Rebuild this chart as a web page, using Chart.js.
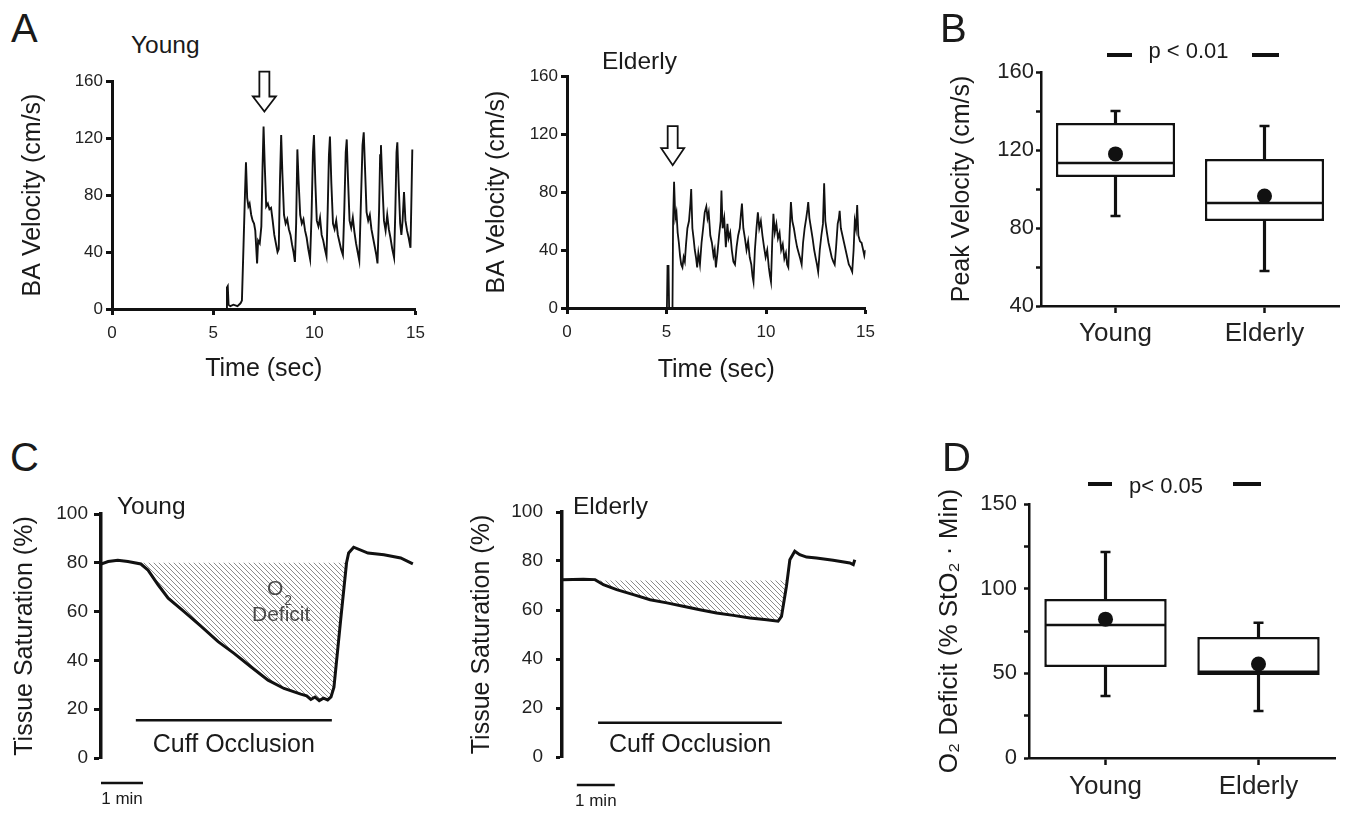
<!DOCTYPE html>
<html>
<head>
<meta charset="utf-8">
<script src="https://cdn.jsdelivr.net/npm/chart.js@4.4.1/dist/chart.umd.min.js"></script>
<style>
  body { margin: 0; background: #fff; }
  #fig { position: relative; width: 1345px; height: 813px; overflow: hidden;
         font-family: "Liberation Sans", Arial, Helvetica, sans-serif; color: #1a1a1a; }
  #fig canvas { position: absolute; }
  .lbl { position: absolute; white-space: nowrap; }
  .panel { font-size: 40px; line-height: 40px; }
  .grp { font-size: 24.5px; line-height: 24px; }
</style>
</head>
<body>
<div id="fig">
  <canvas id="aYoung"></canvas>
  <canvas id="aElderly"></canvas>
  <canvas id="bBox"></canvas>
  <canvas id="cYoung"></canvas>
  <canvas id="cElderly"></canvas>
  <canvas id="dBox"></canvas>

  <div class="lbl panel" style="left:11px;top:8px">A</div>
  <div class="lbl panel" style="left:940px;top:8px">B</div>
  <div class="lbl panel" style="left:10px;top:437px">C</div>
  <div class="lbl panel" style="left:942px;top:437px">D</div>
  <div class="lbl grp" style="left:131px;top:33px">Young</div>
  <div class="lbl grp" style="left:602px;top:49px">Elderly</div>
  <div class="lbl grp" style="left:117px;top:494px">Young</div>
  <div class="lbl grp" style="left:573px;top:494px">Elderly</div>
</div>
<script>
// ---- Panel A: brachial artery velocity traces (time s / velocity cm/s) ----
var baYoungTime = [0, 5.65, 5.68, 5.72, 5.76, 5.85, 6.0, 6.2, 6.35, 6.42, 6.5, 6.57, 6.62, 6.68, 6.74, 6.8, 6.88, 6.95,
  7.02, 7.08, 7.12, 7.17, 7.22, 7.3, 7.38, 7.44, 7.49, 7.55, 7.62, 7.7, 7.78, 7.86, 7.94, 8.02, 8.1, 8.18, 8.24, 8.3,
  8.36, 8.42, 8.5, 8.58, 8.66, 8.74, 8.82, 8.9, 8.97, 9.04, 9.1, 9.16, 9.22, 9.3, 9.38, 9.46, 9.54, 9.62, 9.7, 9.79,
  9.86, 9.93, 9.98, 10.05, 10.12, 10.2, 10.28, 10.36, 10.44, 10.52, 10.6, 10.66, 10.72, 10.77, 10.84, 10.92, 11.0,
  11.08, 11.16, 11.24, 11.32, 11.41, 11.48, 11.55, 11.6, 11.66, 11.74, 11.82, 11.9, 11.98, 12.06, 12.14, 12.22, 12.3,
  12.38, 12.44, 12.5, 12.58, 12.66, 12.74, 12.82, 12.9, 12.98, 13.06, 13.12, 13.2, 13.25, 13.29, 13.36, 13.44, 13.52,
  13.6, 13.68, 13.76, 13.85, 13.94, 14.0, 14.06, 14.1, 14.17, 14.24, 14.3, 14.36, 14.43, 14.5, 14.58, 14.66, 14.75,
  14.8, 14.84];
var baYoungVel = [0, 0, 15, 16, 3, 2, 3, 2, 4, 6, 45, 80, 103, 78, 72, 74, 66, 62,
  60, 55, 45, 32, 48, 46, 58, 100, 128, 100, 72, 74, 70, 71, 62, 52, 46, 40, 42, 90,
  122, 95, 66, 60, 63, 56, 52, 45, 40, 33, 60, 112, 90, 66, 60, 63, 55, 50, 42, 35,
  65, 110, 122, 88, 62, 58, 64, 52, 48, 42, 37, 70, 108, 121, 88, 60, 56,
  62, 52, 47, 42, 38, 70, 110, 119, 92, 62, 57, 64, 54, 46, 40, 34, 75,
  115, 124, 100, 68, 62, 66, 56, 50, 44, 38, 32, 70, 108, 115, 88, 62, 55,
  66, 56, 50, 42, 36, 68, 110, 117, 86, 60, 52, 62, 82, 62, 55, 50, 43,
  80, 112];

var baElderlyTime = [0, 5.02, 5.05, 5.1, 5.13, 5.3, 5.33, 5.38, 5.44, 5.5, 5.56, 5.62, 5.68, 5.74, 5.8, 5.86, 5.92,
  5.98, 6.05, 6.13, 6.2, 6.24, 6.3, 6.36, 6.42, 6.48, 6.54, 6.6, 6.68, 6.76, 6.84, 6.92, 7.0, 7.06, 7.12, 7.2, 7.28,
  7.36, 7.42, 7.48, 7.56, 7.64, 7.72, 7.76, 7.82, 7.9, 7.98, 8.06, 8.12, 8.2, 8.28, 8.36, 8.44, 8.52, 8.6, 8.68, 8.74,
  8.79, 8.86, 8.94, 9.02, 9.1, 9.18, 9.26, 9.32, 9.37, 9.44, 9.52, 9.59, 9.66, 9.74, 9.82, 9.9, 9.98, 10.06, 10.14,
  10.2, 10.25, 10.31, 10.37, 10.44, 10.52, 10.6, 10.68, 10.76, 10.84, 10.92, 11.0, 11.06, 11.12, 11.18, 11.25, 11.32,
  11.4, 11.48, 11.56, 11.64, 11.72, 11.79, 11.86, 11.94, 12.02, 12.08, 12.12, 12.18, 12.26, 12.34, 12.42, 12.5, 12.56,
  12.62, 12.7, 12.78, 12.86, 12.92, 12.98, 13.06, 13.14, 13.22, 13.3, 13.38, 13.45, 13.52, 13.6, 13.66, 13.7, 13.76,
  13.84, 13.92, 14.0, 14.08, 14.16, 14.24, 14.33, 14.4, 14.46, 14.52, 14.58, 14.64, 14.72, 14.8, 14.88, 14.94, 15.0];
var baElderlyVel = [0, 0, 29, 29, 0, 0, 60, 87, 62, 66, 52, 45, 36, 30, 28, 35, 32,
  44, 55, 60, 72, 82, 55, 48, 40, 35, 28, 38, 30, 45, 55, 66, 70, 62, 66, 50, 45,
  36, 40, 28, 38, 50, 60, 81, 55, 62, 42, 58, 48, 52, 40, 32, 30, 42, 50, 55, 65,
  72, 55, 48, 40, 46, 35, 30, 22, 18, 40, 55, 66, 55, 60, 50, 42, 35, 40, 28,
  22, 18, 45, 65, 52, 58, 48, 52, 40, 44, 34, 38, 30, 28, 50, 73, 60,
  55, 48, 42, 38, 34, 30, 45, 55, 62, 68, 73, 62, 55, 48, 40, 34, 30,
  25, 40, 50, 58, 86, 60, 52, 45, 40, 35, 32, 30, 42, 58, 62, 67, 55,
  50, 45, 40, 35, 30, 28, 25, 40, 60, 55, 71, 50, 46, 45, 40, 36, 40];

// hollow arrows: [time, top value, tip value]
var arrowYoung = [7.53, 166.6, 138.6];
var arrowElderly = [5.31, 125.5, 98.5];

// ---- Panel B: peak velocity box plots ----
var groups = ['Young', 'Elderly'];
var peakMin = [86.2, 58.0];
var peakQ1 = [106.2, 83.6];
var peakMedian = [113.3, 92.8];
var peakQ3 = [133.8, 115.4];
var peakMax = [140.0, 132.3];
var peakMean = [118.0, 96.4];

// ---- Panel C: tissue saturation (time min / StO2 %) ----
var stoYoungTime = [0, 0.17, 0.4, 0.64, 0.95, 1.12, 1.36, 1.6, 1.98, 2.38, 2.79, 3.17, 3.57, 3.98, 4.36, 4.76, 4.9,
  5.0, 5.1, 5.2, 5.3, 5.4, 5.48, 5.55, 5.71, 5.85, 5.9, 6.02, 6.36, 6.74, 7.14, 7.43];
var stoYoungSat = [79.5, 80.5, 81, 80.5, 79.5, 77, 71, 65.5, 60, 54, 47.7, 42.9, 37.4, 31.9, 28.5, 26.2, 25.5,
  24, 25, 23.5, 24.5, 23.8, 25, 29, 56.6, 80, 84, 86.4, 84, 83.3, 82, 79.6];
var stoElderlyTime = [0, 0.56, 0.87, 1.09, 1.44, 1.88, 2.32, 2.76, 3.19, 3.63, 4.07, 4.51, 4.95, 5.39, 5.69, 5.78,
  5.91, 5.93, 6.0, 6.13, 6.26, 6.44, 6.7, 7.14, 7.58, 7.67, 7.71];
var stoElderlySat = [72.3, 72.6, 72.4, 70.3, 68.3, 66.3, 64.2, 62.9, 61.5, 60.1, 58.8, 57.8, 56.7, 56, 55.4, 57.4,
  69.7, 72, 80.5, 84, 82.6, 81.6, 81.2, 80.3, 79.2, 78.5, 80.5];

var deficitYoung = [0.95, 5.85];    // time window of the hatched area
var deficitElderly = [0.87, 5.93];
var baselineYoung = 80;
var baselineElderly = 72;
var cuffYoung = [0.83, 5.5];
var cuffElderly = [0.95, 5.79];
var cuffLevelYoung = 15.5;
var cuffLevelElderly = 14;
var minuteBarYoung = [0, 1];
var minuteBarElderly = [0.39, 1.39];

// ---- Panel D: O2 deficit box plots ----
var defMin = [36.6, 27.7];
var defQ1 = [53.7, 49.0];
var defMedian = [78.5, 51.0];
var defQ3 = [93.9, 71.5];
var defMax = [121.6, 79.8];
var defMean = [82.0, 55.5];

var FONT = '"Liberation Sans", Arial, Helvetica, sans-serif';
var INK = '#111';
var TITLE = 25;
Chart.defaults.font.family = FONT;
Chart.defaults.color = '#1a1a1a';
Chart.defaults.animation = false;
Chart.defaults.events = [];
Chart.defaults.plugins.legend.display = false;
Chart.defaults.plugins.tooltip.enabled = false;

// size and place a canvas so that its chart area lands on box
function place(id, box, pad) {
  var cv = document.getElementById(id);
  cv.width = box.r - box.l + pad.l + pad.r;
  cv.height = box.b - box.t + pad.t + pad.b;
  cv.style.left = (box.l - pad.l) + 'px';
  cv.style.top = (box.t - pad.t) + 'px';
  return cv;
}

function pairs(xs, ys) {
  return xs.map(function (x, i) { return {x: x, y: ys[i]}; });
}

function axis(o) {
  return {
    border: {display: true, color: INK, width: o.bw},
    grid: {display: true, drawOnChartArea: false, drawTicks: true, offset: false,
      tickLength: o.tl, tickWidth: o.tw || o.bw, tickColor: INK},
    ticks: {font: {size: o.fs}, color: '#222', padding: o.tp, maxRotation: 0, autoSkip: false}
  };
}

function hatch(cv) {
  var p = document.createElement('canvas');
  p.width = 5; p.height = 5;
  var g = p.getContext('2d');
  g.strokeStyle = '#8c8c8c';
  g.lineWidth = 1;
  g.beginPath();
  g.moveTo(-1, -1); g.lineTo(6, 6);
  g.moveTo(-1, 4); g.lineTo(1, 6);
  g.moveTo(4, -1); g.lineTo(6, 1);
  g.stroke();
  return cv.getContext('2d').createPattern(p, 'repeat');
}

// hollow down arrow over the trace
function arrowPlugin(a, head) {
  return {
    id: 'arrow',
    afterDatasetsDraw: function (chart) {
      var ctx = chart.ctx, xs = chart.scales.x, ys = chart.scales.y;
      var x = xs.getPixelForValue(a[0]), yTop = ys.getPixelForValue(a[1]), yTip = ys.getPixelForValue(a[2]);
      var yHead = yTip - head;
      ctx.save();
      ctx.beginPath();
      ctx.moveTo(x - 5, yTop); ctx.lineTo(x + 5, yTop); ctx.lineTo(x + 5, yHead);
      ctx.lineTo(x + 11.5, yHead); ctx.lineTo(x, yTip); ctx.lineTo(x - 11.5, yHead);
      ctx.lineTo(x - 5, yHead); ctx.closePath();
      ctx.fillStyle = '#fff'; ctx.fill();
      ctx.strokeStyle = INK; ctx.lineWidth = 1.8; ctx.stroke();
      ctx.restore();
    }
  };
}

// cuff occlusion bar, its label, the 1 min scale bar and optional O2 deficit label
function cuffPlugin(o) {
  return {
    id: 'cuff',
    afterDatasetsDraw: function (chart) {
      var ctx = chart.ctx, xs = chart.scales.x, ys = chart.scales.y;
      var x0 = xs.getPixelForValue(o.cuff[0]), x1 = xs.getPixelForValue(o.cuff[1]);
      var y = ys.getPixelForValue(o.level);
      ctx.save();
      ctx.strokeStyle = INK; ctx.lineWidth = 2.5;
      ctx.beginPath(); ctx.moveTo(x0, y); ctx.lineTo(x1, y); ctx.stroke();
      ctx.fillStyle = '#1a1a1a'; ctx.textAlign = 'center'; ctx.textBaseline = 'middle';
      ctx.font = '25px ' + FONT;
      ctx.fillText('Cuff Occlusion', (x0 + x1) / 2, y + o.textDy);
      var yb = ys.getPixelForValue(0) + o.barDy;
      var b0 = xs.getPixelForValue(o.bar[0]), b1 = xs.getPixelForValue(o.bar[1]);
      ctx.beginPath(); ctx.moveTo(b0, yb); ctx.lineTo(b1, yb); ctx.stroke();
      ctx.font = '17px ' + FONT;
      ctx.fillText('1 min', (b0 + b1) / 2, yb + 16);
      if (o.o2) {
        var lx = xs.getPixelForValue(o.o2[0]), ly = ys.getPixelForValue(o.o2[1]);
        ctx.fillStyle = '#4a4a4a';
        ctx.font = '21px ' + FONT;
        ctx.fillText('O', lx, ly);
        ctx.fillText('Deficit', lx + 6, ly + 26);
        ctx.font = '14px ' + FONT;
        ctx.fillText('2', lx + 13, ly + 12);
      }
      ctx.restore();
    }
  };
}

// significance label with the two short dashes
function pPlugin(o) {
  return {
    id: 'pval',
    afterDraw: function (chart) {
      var ctx = chart.ctx, xs = chart.scales.x, ys = chart.scales.y;
      var c0 = xs.getPixelForValue(0), c1 = xs.getPixelForValue(1);
      var y = ys.getPixelForValue(o.level);
      ctx.save();
      ctx.strokeStyle = INK; ctx.lineWidth = 4;
      ctx.beginPath();
      ctx.moveTo(c0 + o.dash[0][0], y); ctx.lineTo(c0 + o.dash[0][1], y);
      ctx.moveTo(c1 + o.dash[1][0], y); ctx.lineTo(c1 + o.dash[1][1], y);
      ctx.stroke();
      ctx.font = '22px ' + FONT; ctx.fillStyle = '#1a1a1a';
      ctx.textAlign = 'center'; ctx.textBaseline = 'middle';
      ctx.fillText(o.text, (c0 + c1) / 2 + o.textDx, ys.getPixelForValue(o.textLevel));
      ctx.restore();
    }
  };
}

function traceChart(id, box, pad, o) {
  var cv = place(id, box, pad);
  var ds = [{data: pairs(o.t, o.v), borderColor: INK, borderWidth: o.lw, pointRadius: 0,
    tension: 0, fill: false, order: 0}];
  if (o.window) {
    ds.push({
      data: pairs(o.t, o.v).filter(function (p) { return p.x >= o.window[0] && p.x <= o.window[1]; }),
      borderWidth: 0, borderColor: 'rgba(0,0,0,0)', pointRadius: 0, tension: 0,
      backgroundColor: hatch(cv), fill: {value: o.base}, order: 1
    });
  }
  var x = axis(o.xAxis || {bw: 3, tl: 6, fs: 17, tp: 8});
  x.type = 'linear'; x.min = o.xMin; x.max = o.xMax;
  x.ticks.stepSize = o.xStep;
  if (o.xTitle) {
    x.title = {display: true, text: o.xTitle, font: {size: TITLE}, color: '#1a1a1a', padding: 0};
    x.afterFit = function (s) { s.height = pad.b; };
  } else {
    x.display = false;
  }
  var y = axis(o.yAxis);
  y.min = o.yMin; y.max = o.yMax; y.ticks.stepSize = o.yStep;
  y.title = {display: true, text: o.yTitle, font: {size: TITLE}, color: '#1a1a1a', padding: 0};
  y.afterFit = function (s) { s.width = pad.l; };
  return new Chart(cv, {
    type: 'line',
    data: {datasets: ds},
    options: {
      responsive: false,
      layout: {autoPadding: false, padding: {left: 0, top: pad.t, right: pad.r, bottom: o.xTitle ? 0 : pad.b}},
      scales: {x: x, y: y}
    },
    plugins: o.plugins
  });
}

function boxChart(id, box, pad, o) {
  var cv = place(id, box, pad);
  var ds = [
    {type: 'line', data: o.mean, showLine: false, pointRadius: 7.5, pointBackgroundColor: INK,
      pointBorderWidth: 0, order: 0},
    {type: 'line', data: o.med, showLine: false, pointStyle: 'line', pointRadius: o.half,
      pointBorderColor: INK, pointBorderWidth: 2.5, order: 1},
    {type: 'line', data: o.max, showLine: false, pointStyle: 'line', pointRadius: 5,
      pointBorderColor: INK, pointBorderWidth: 2.5, order: 2},
    {type: 'line', data: o.min, showLine: false, pointStyle: 'line', pointRadius: 5,
      pointBorderColor: INK, pointBorderWidth: 2.5, order: 2},
    {type: 'bar', data: o.q3.map(function (v, i) { return [v, o.max[i]]; }), backgroundColor: INK,
      barThickness: 2.5, grouped: false, order: 3},
    {type: 'bar', data: o.min.map(function (v, i) { return [v, o.q1[i]]; }), backgroundColor: INK,
      barThickness: 2.5, grouped: false, order: 3},
    {type: 'bar', data: o.q1.map(function (v, i) { return [v, o.q3[i]]; }), backgroundColor: '#fff',
      borderColor: INK, borderWidth: 2.5, borderSkipped: false, categoryPercentage: 0.8,
      barPercentage: 1, grouped: false, order: 4}
  ];
  var x = axis({bw: 2.5, tl: 7, fs: 26, tp: o.xPad});
  x.offset = true;
  x.afterFit = function (s) { s.height = pad.b; };
  var y = axis({bw: 2.5, tl: 5, fs: 22, tp: o.yPad});
  y.min = o.yMin; y.max = o.yMax; y.ticks.stepSize = o.yStep;
  y.ticks.callback = function (v) { return v % o.yLabelEvery === 0 ? v : ''; };
  y.title = {display: true, text: o.yTitle, font: {size: o.titleSize || TITLE}, color: '#1a1a1a', padding: 0};
  y.afterFit = function (s) { s.width = pad.l; };
  return new Chart(cv, {
    type: 'bar',
    data: {labels: groups, datasets: ds},
    options: {
      responsive: false,
      layout: {autoPadding: false, padding: {left: 0, top: pad.t, right: pad.r, bottom: 0}},
      scales: {x: x, y: y}
    },
    plugins: [pPlugin(o.p)]
  });
}

// A
traceChart('aYoung', {l: 112, t: 81, r: 418, b: 309}, {l: 94, t: 20, r: 15, b: 75}, {
  t: baYoungTime, v: baYoungVel, lw: 1.9,
  xMin: 0, xMax: 15, xStep: 5, xTitle: 'Time (sec)',
  yMin: 0, yMax: 160, yStep: 40, yTitle: 'BA Velocity (cm/s)',
  yAxis: {bw: 3, tl: 6, fs: 17, tp: 3},
  plugins: [arrowPlugin(arrowYoung, 15)]
});
traceChart('aElderly', {l: 567, t: 76, r: 868, b: 308}, {l: 85, t: 20, r: 15, b: 77}, {
  t: baElderlyTime, v: baElderlyVel, lw: 1.8,
  xMin: 0, xMax: 15, xStep: 5, xTitle: 'Time (sec)',
  yMin: 0, yMax: 160, yStep: 40, yTitle: 'BA Velocity (cm/s)',
  yAxis: {bw: 3, tl: 6, fs: 17, tp: 3},
  plugins: [arrowPlugin(arrowElderly, 17)]
});

// B
boxChart('bBox', {l: 1041, t: 72, r: 1339, b: 306}, {l: 94, t: 45, r: 5, b: 45}, {
  min: peakMin, q1: peakQ1, med: peakMedian, q3: peakQ3, max: peakMax, mean: peakMean, half: 58.5,
  yMin: 40, yMax: 160, yStep: 20, yLabelEvery: 40, yTitle: 'Peak Velocity (cm/s)', yPad: 2, xPad: 5,
  p: {text: 'p < 0.01', level: 168.7, textLevel: 170.3, textDx: -1.5, dash: [[-8.5, 16.5], [-12.5, 14.5]]}
});

// C
traceChart('cYoung', {l: 101, t: 514, r: 420, b: 758}, {l: 91, t: 25, r: 8, b: 55}, {
  t: stoYoungTime, v: stoYoungSat, lw: 3,
  window: deficitYoung, base: baselineYoung,
  xMin: 0, xMax: 7.6, xStep: 1,
  yMin: 0, yMax: 100, yStep: 20, yTitle: 'Tissue Saturation (%)',
  yAxis: {bw: 3.5, tl: 7, tw: 3, fs: 19, tp: 6},
  plugins: [cuffPlugin({cuff: cuffYoung, level: cuffLevelYoung, textDy: 25, bar: minuteBarYoung, barDy: 25,
    o2: [4.15, 69.2]})]
});
traceChart('cElderly', {l: 562, t: 512, r: 862, b: 757}, {l: 95, t: 25, r: 8, b: 56}, {
  t: stoElderlyTime, v: stoElderlySat, lw: 3,
  window: deficitElderly, base: baselineElderly,
  xMin: 0, xMax: 7.9, xStep: 1,
  yMin: 0, yMax: 100, yStep: 20, yTitle: 'Tissue Saturation (%)',
  yAxis: {bw: 3.5, tl: 6, tw: 3, fs: 19, tp: 13},
  plugins: [cuffPlugin({cuff: cuffElderly, level: cuffLevelElderly, textDy: 22, bar: minuteBarElderly, barDy: 28})]
});

// D
boxChart('dBox', {l: 1029, t: 504, r: 1335, b: 758}, {l: 95, t: 40, r: 8, b: 52}, {
  min: defMin, q1: defQ1, med: defMedian, q3: defQ3, max: defMax, mean: defMean, half: 60,
  yMin: 0, yMax: 150, yStep: 25, yLabelEvery: 50, yTitle: 'O\u2082 Deficit (% StO\u2082 \u00b7 Min)', titleSize: 26,
  yPad: 7, xPad: 6,
  p: {text: 'p< 0.05', level: 161.8, textLevel: 160, textDx: -16, dash: [[-17.5, 6.5], [-25.5, 2.5]]}
});
</script>
</body>
</html>
